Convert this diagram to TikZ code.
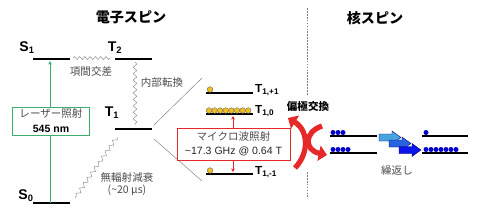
\documentclass[tikz,border=0pt]{standalone}
\usepackage{fontspec}
\setmainfont{Liberation Sans}
\newfontfamily\jp{Noto Sans CJK JP}
\usetikzlibrary{arrows.meta, decorations.pathmorphing}

\definecolor{laserG}{RGB}{60,175,110}
\definecolor{mwRed}{RGB}{230,40,40}
\definecolor{dotY}{RGB}{240,190,30}
\definecolor{dotB}{RGB}{0,0,200}
\definecolor{repA}{RGB}{70,165,225}
\definecolor{repB}{RGB}{40,100,225}
\definecolor{repC}{RGB}{10,20,235}

\begin{document}
\begin{tikzpicture}[x=0.03cm, y=-0.03cm,
		% energy levels and their labels
		lvl/.style={line width=1.5pt},
		lvl label/.style={font=\bfseries\large, inner sep=0},
		sub label/.style={font=\bfseries, inner sep=0, anchor=west},
		% Japanese texts
		jp label/.style={font=\jp\small, text=black!70, inner sep=0, align=center},
		head title/.style={font=\jp\bfseries\large, inner sep=0},
		% non-radiative transitions
		wave/.style={draw=black!45, thin, decorate, decoration={snake, amplitude=1.6pt, segment length=5.5pt}},
		zig/.style={draw=black!45, thin, decorate, decoration={zigzag, amplitude=1.3pt, segment length=4.5pt}},
		% populations
		ydot/.style={circle, fill=dotY, draw=black!60, line width=0.3pt, inner sep=0, minimum size=0.17cm},
		bdot/.style={circle, fill=dotB, inner sep=0, minimum size=0.15cm},
		blk arrow/.pic={
			\filldraw[draw=blue!40!black, line width=0.3pt, fill=#1]
				(-11,-3.5) -- (2,-3.5) -- (2,-6.5) -- (11,0) -- (2,6.5) -- (2,3.5) -- (-11,3.5) -- cycle;
		},
		red arrow/.style={line width=4.5pt, draw=mwRed, -{Triangle[width=13pt, length=7pt]}}
		]
		\useasboundingbox (0,0) rectangle (480,216);
		
		% --- titles ---
		\node[head title] (ttlE) at (131,17) {電子スピン};
		\node[head title] (ttlN) at (375,18) {核スピン};
		\draw[black!50, dash pattern=on 1.5pt off 1pt] (307,8) -- (307,95);
		\draw[black!50, dash pattern=on 1.5pt off 1pt] (307,172) -- (307,198);
		
		% --- electron levels ---
		\coordinate (S1a) at (33,59);  \coordinate (S1b) at (70,59);
		\coordinate (T2a) at (115,59); \coordinate (T2b) at (152,59);
		\coordinate (T1a) at (115,129); \coordinate (T1b) at (152,129);
		\coordinate (S0a) at (33,203); \coordinate (S0b) at (70,203);
		\draw[lvl] (S1a) -- (S1b);
		\draw[lvl] (T2a) -- (T2b);
		\draw[lvl] (T1a) -- (T1b);
		\draw[lvl] (S0a) -- (S0b);
		\node[lvl label] (lS1) at (27,48) {S\textsubscript{1}};
		\node[lvl label] (lT2) at (115,48) {T\textsubscript{2}};
		\node[lvl label] (lT1) at (112,113) {T\textsubscript{1}};
		\node[lvl label] (lS0) at (26,196) {S\textsubscript{0}};
		
		% --- laser excitation ---
		\coordinate (exc0) at (50,203);
		\coordinate (exc1) at (50,61);
		\draw[laserG, -{Stealth[length=3pt, width=3pt]}] (exc0) -- (exc1);
		\node[draw=laserG, fill=white, thin, minimum width=2.31cm, minimum height=0.84cm, inner sep=0] (laser) at (51,121) {};
		\node[jp label] (lasT) at (51,114) {レーザー照射};
		\node[font=\bfseries\small, inner sep=0] (lasN) at (51,129) {545 nm};
		
		% --- relaxation ---
		\coordinate (isc0) at (73,58); \coordinate (isc1) at (112,58);
		\draw[zig] (isc0) -- (isc1);
		\node[jp label] (iscL) at (91,71) {項間交差};
		\coordinate (ic0) at (135,62); \coordinate (ic1) at (135,126);
		\draw[wave] (ic0) -- (ic1);
		\node[jp label] (icL) at (162,82) {内部転換};
		\coordinate (nr0) at (117,137); \coordinate (nr1) at (75,198);
		\draw[wave] (nr0) -- (nr1);
		\node[jp label] (nrL) at (127,177) {無輻射減衰};
		\node[jp label] (nrT) at (127,190) {(\textasciitilde 20 μs)};
		
		% --- T1 sublevels ---
		\coordinate (zoomA) at (202,78); \coordinate (zoomB) at (202,181);
		\draw[black!50, thin] (T1b) ++(2,-4) -- (zoomA);
		\draw[black!50, thin] (T1b) ++(2,10) -- (zoomB);
		\coordinate (Tpa) at (206,93);  \coordinate (Tpb) at (253,93);
		\coordinate (T0a) at (206,114); \coordinate (T0b) at (253,114);
		\coordinate (Tma) at (206,174); \coordinate (Tmb) at (253,174);
		\draw[lvl] (Tpa) -- (Tpb);
		\draw[lvl] (T0a) -- (T0b);
		\draw[lvl] (Tma) -- (Tmb);
		\node[ydot] (yp) at (210,89.5) {};
		\foreach \i in {0,...,7}
			\node[ydot] (y0-\i) at ({209+5.6*\i},110.5) {};
		\node[ydot] (ym) at (210,170.5) {};
		\node[sub label] (lTp) at (255,90) {T\textsubscript{1,+1}};
		\node[sub label] (lT0) at (255,111) {T\textsubscript{1,0}};
		\node[sub label] (lTm) at (255,172) {T\textsubscript{1,-1}};
		
		% --- microwave ---
		\node[draw=mwRed, fill=white, thin, minimum width=3.39cm, minimum height=0.96cm, inner sep=0] (mw) at (233.5,144) {};
		\node[jp label] (mwT) at (233.5,137) {マイクロ波照射};
		\node[font=\small, text=black!85, inner sep=0] (mwF) at (233.5,151) {\textasciitilde 17.3 GHz @ 0.64 T};
		\coordinate (mw0) at (233,116); \coordinate (mwm) at (233,172);
		\draw[mwRed, -{Stealth[length=3pt, width=3pt]}] (mw.north -| mw0) -- (mw0);
		\draw[mwRed, -{Stealth[length=3pt, width=3pt]}] (mw.south -| mwm) -- (mwm);
		
		% --- polarization exchange ---
		\node[font=\jp\bfseries\small, inner sep=0] (pxL) at (308,106) {偏極交換};
		\coordinate (pxA0) at (295,168); \coordinate (pxA1) at (288,118);
		\coordinate (pxB0) at (322,126); \coordinate (pxB1) at (327,155);
		\draw[red arrow] (pxA0) .. controls (310,152) and (308,130) .. (pxA1);
		\draw[red arrow] (pxB0) .. controls (304,132) and (304,150) .. (pxB1);
		
		% --- nuclear spins ---
		\draw[lvl] (330,136) -- (377,136);
		\draw[lvl] (330,153) -- (377,153);
		\foreach \i in {0,1,2}
			\node[bdot] (nA-\i) at ({333+5*\i},132.5) {};
		\foreach \i in {0,...,3}
			\node[bdot] (nB-\i) at ({333+5*\i},149.5) {};
		\pic (rep1) at (390,137.5) {blk arrow=repA};
		\pic (rep2) at (400,143.5) {blk arrow=repB};
		\pic (rep3) at (410,150) {blk arrow=repC};
		\node[jp label] (repL) at (397,170) {繰返し};
		\draw[lvl] (422,136) -- (468,136);
		\draw[lvl] (422,153) -- (468,153);
		\node[bdot] (nC) at (426,132.5) {};
		\foreach \i in {0,...,6}
			\node[bdot] (nD-\i) at ({426+5*\i},149.5) {};
	\end{tikzpicture}
\end{document}
